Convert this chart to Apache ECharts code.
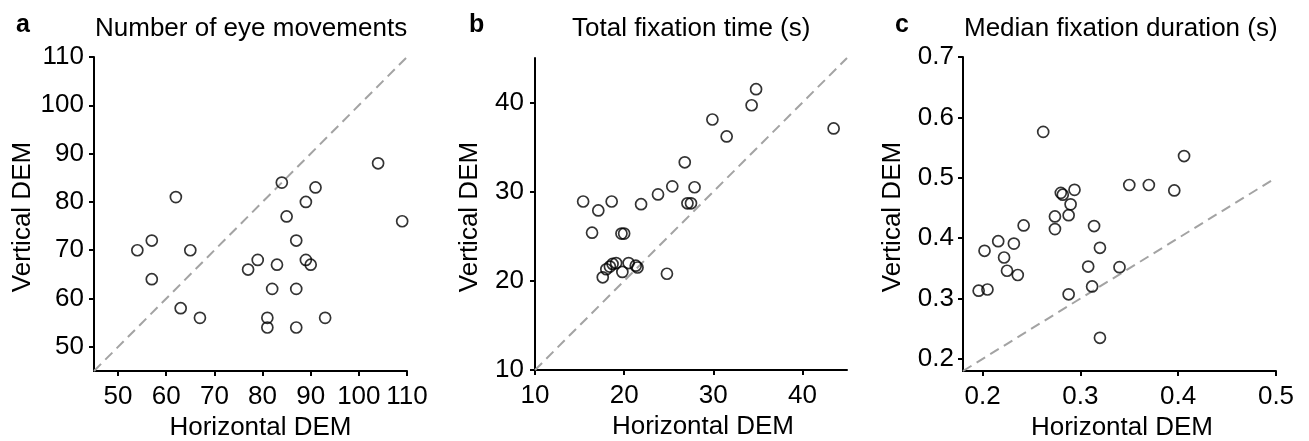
<!DOCTYPE html>
<html>
<head>
<meta charset="utf-8">
<script src="https://cdn.jsdelivr.net/npm/echarts@6/dist/echarts.min.js"></script>
<style>
  html, body { margin: 0; padding: 0; background: #fff; }
  #main { width: 1309px; height: 441px; }
</style>
</head>
<body>
<div id="main"></div>
<script>
// panel a - number of eye movements
var aX = [54, 57, 57, 62, 65, 63, 67, 77, 79, 83, 82, 81, 81, 84, 85, 87, 87, 87, 89, 91, 89, 90, 93, 104, 109];
var aY = [70, 72, 64, 81, 70, 58, 56, 66, 68, 67, 62, 56, 54, 84, 77, 72, 62, 54, 80, 83, 68, 67, 56, 88, 76];
var aRange = [45, 110];
var aTicks = [50, 60, 70, 80, 90, 100, 110];

// panel b - total fixation time (s)
var bX = [15.4, 17.1, 16.4, 18.6, 17.6, 18.0, 18.4, 18.7, 19.1, 19.8, 20.5, 21.3, 21.5, 19.7, 20.0, 21.9, 23.8, 25.4, 24.8, 26.8, 27.1, 27.5, 27.9, 29.9, 31.5, 34.3, 34.8, 43.5];
var bY = [28.9, 27.9, 25.4, 28.9, 20.4, 21.3, 21.6, 21.9, 22.0, 21.0, 22.0, 21.7, 21.5, 25.3, 25.3, 28.6, 29.7, 30.6, 20.8, 33.3, 28.7, 28.7, 30.5, 38.1, 36.2, 39.7, 41.5, 37.1];
var bRange = [10, 45];
var bTicks = [10, 20, 30, 40];

// panel c - median fixation duration (s)
var cX = [0.196, 0.205, 0.202, 0.216, 0.222, 0.225, 0.232, 0.236, 0.242, 0.262, 0.274, 0.274, 0.280, 0.282, 0.294, 0.290, 0.288, 0.288, 0.314, 0.320, 0.308, 0.312, 0.320, 0.340, 0.350, 0.370, 0.396, 0.406];
var cY = [0.313, 0.315, 0.379, 0.395, 0.368, 0.346, 0.391, 0.339, 0.421, 0.576, 0.436, 0.415, 0.475, 0.472, 0.480, 0.456, 0.438, 0.307, 0.420, 0.384, 0.353, 0.320, 0.235, 0.352, 0.488, 0.488, 0.479, 0.536];
var cXRange = [0.18, 0.5];
var cYRange = [0.18, 0.7];
var cXTicks = [0.2, 0.3, 0.4, 0.5];
var cYTicks = [0.2, 0.3, 0.4, 0.5, 0.6, 0.7];

var font = 'Liberation Sans, Arial, sans-serif';

function zip(xs, ys) {
  return xs.map(function (x, i) { return [x, ys[i]]; });
}

function axis(idx, range, ticks, o) {
  return {
    type: 'value',
    gridIndex: idx,
    min: range[0],
    max: range[1],
    name: o.name,
    nameLocation: 'middle',
    nameGap: o.gap,
    nameTextStyle: { fontSize: 26, color: '#000', fontFamily: font, padding: o.pad },
    splitLine: { show: false },
    axisLine: { show: true, onZero: false, lineStyle: { color: '#000', width: 2 } },
    axisTick: { show: true, length: 5, customValues: ticks, lineStyle: { color: '#000', width: 2 } },
    axisLabel: {
      customValues: ticks,
      margin: o.margin,
      fontSize: 26,
      color: '#000',
      fontFamily: font,
      formatter: function (v) { return o.dec ? v.toFixed(1) : String(v); }
    }
  };
}

function dots(idx, xs, ys) {
  return {
    type: 'scatter',
    xAxisIndex: idx,
    yAxisIndex: idx,
    data: zip(xs, ys),
    symbol: 'circle',
    symbolSize: 11,
    silent: true,
    z: 3,
    itemStyle: { color: 'rgba(0,0,0,0)', borderColor: '#000', borderWidth: 1.7 }
  };
}

function diag(idx, lo, hi) {
  return {
    type: 'line',
    xAxisIndex: idx,
    yAxisIndex: idx,
    data: [[lo, lo], [hi, hi]],
    showSymbol: false,
    silent: true,
    z: 2,
    lineStyle: { color: '#a3a3a3', width: 2, type: [10, 6] }
  };
}

var titleStyle = { fontSize: 26, fontWeight: 'normal', color: '#000', fontFamily: font };
var letterStyle = { fontSize: 25, fontWeight: 'bold', color: '#000', fontFamily: font };

var option = {
  animation: false,
  backgroundColor: '#fff',
  title: [
    { text: 'a', left: 16, top: 13, padding: 0, textStyle: letterStyle },
    { text: 'b', left: 469, top: 13, padding: 0, textStyle: letterStyle },
    { text: 'c', left: 895, top: 13, padding: 0, textStyle: letterStyle },
    { text: 'Number of eye movements', left: 95, top: 16, padding: 0, textStyle: titleStyle },
    { text: 'Total fixation time (s)', left: 572, top: 16, padding: 0, textStyle: titleStyle },
    { text: 'Median fixation duration (s)', left: 964, top: 16, padding: 0, textStyle: titleStyle }
  ],
  grid: [
    { left: 94, top: 57, width: 313, height: 314, outerBoundsMode: 'none' },
    { left: 535, top: 58, width: 312, height: 312, outerBoundsMode: 'none' },
    { left: 963, top: 57, width: 313, height: 314, outerBoundsMode: 'none' }
  ],
  xAxis: [
    axis(0, aRange, aTicks, { name: 'Horizontal DEM', gap: 43, margin: 13, pad: [0, 0, 0, 20] }),
    axis(1, bRange, bTicks, { name: 'Horizontal DEM', gap: 43, margin: 13, pad: [0, 0, 0, 24] }),
    axis(2, cXRange, cXTicks, { name: 'Horizontal DEM', gap: 43, margin: 13, pad: [0, 0, 0, 5], dec: true })
  ],
  yAxis: [
    axis(0, aRange, aTicks, { name: 'Vertical DEM', gap: 58, margin: 10, pad: [0, 6, 0, 0] }),
    axis(1, bRange, bTicks, { name: 'Vertical DEM', gap: 52, margin: 11, pad: [0, 6, 0, 0] }),
    axis(2, cYRange, cYTicks, { name: 'Vertical DEM', gap: 57, margin: 9, pad: [0, 6, 0, 0], dec: true })
  ],
  series: [
    diag(0, aRange[0], aRange[1]),
    dots(0, aX, aY),
    diag(1, bRange[0], bRange[1]),
    dots(1, bX, bY),
    diag(2, cXRange[0], cXRange[1]),
    dots(2, cX, cY)
  ]
};

var mychart = echarts.init(document.getElementById('main'));
mychart.setOption(option);
window.addEventListener('resize', function () {
  mychart.resize();
});
</script>
</body>
</html>
